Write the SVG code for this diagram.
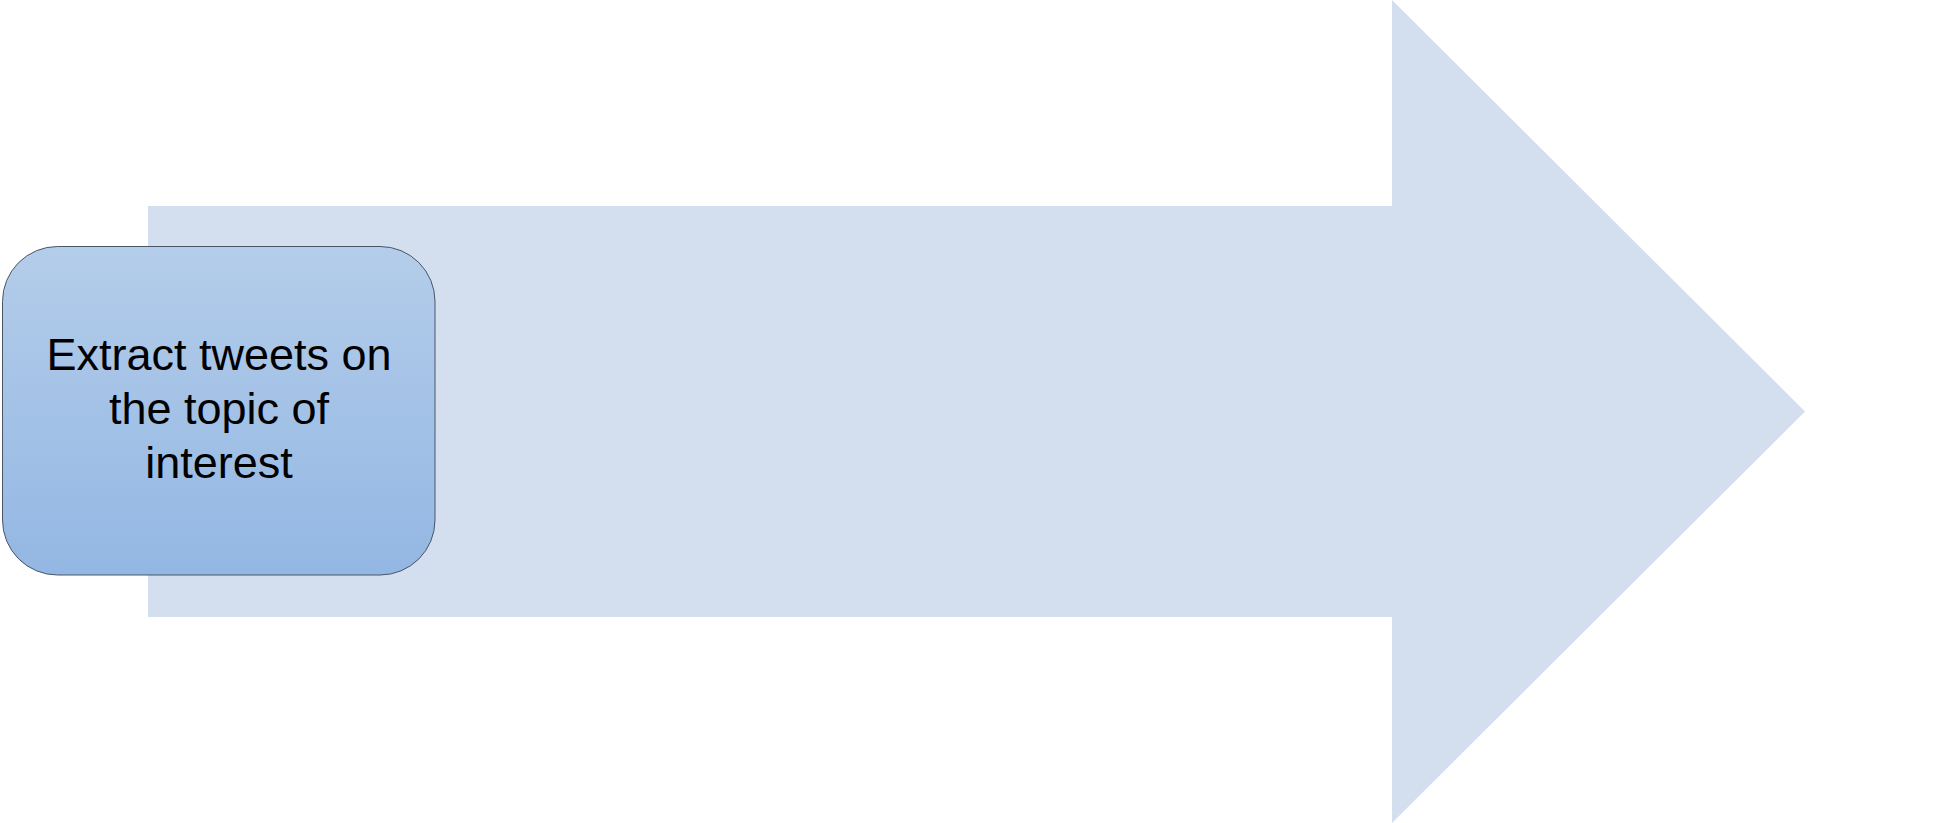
<svg xmlns="http://www.w3.org/2000/svg" width="1949" height="823" viewBox="0 0 1949 823">
<style>
.bg{fill:#D3DEEF}
.node{stroke:#4a5566;stroke-width:1}
.lbl{font-family:"Liberation Sans",Arial,sans-serif;font-size:45px;fill:#000;text-anchor:middle}
</style>
<defs>
<linearGradient id="g" x1="0" y1="0" x2="0" y2="1">
<stop offset="0" stop-color="#B4CDEA"/>
<stop offset="1" stop-color="#93B7E3"/>
</linearGradient>
</defs>
<rect width="1949" height="823" fill="#fff"/>
<g id="connectors">
<path class="bg" d="M148 206 H1392 V0 L1805 411.5 L1392 823 V617 H148 Z"/>
</g>
<g id="node1">
<rect class="node" x="2.5" y="246.5" width="432.5" height="328.5" rx="55" ry="55" fill="url(#g)"/>
<text class="lbl" x="219" y="370">Extract tweets on</text>
<text class="lbl" x="219" y="424">the topic of</text>
<text class="lbl" x="219" y="478">interest</text>
</g>
</svg>
